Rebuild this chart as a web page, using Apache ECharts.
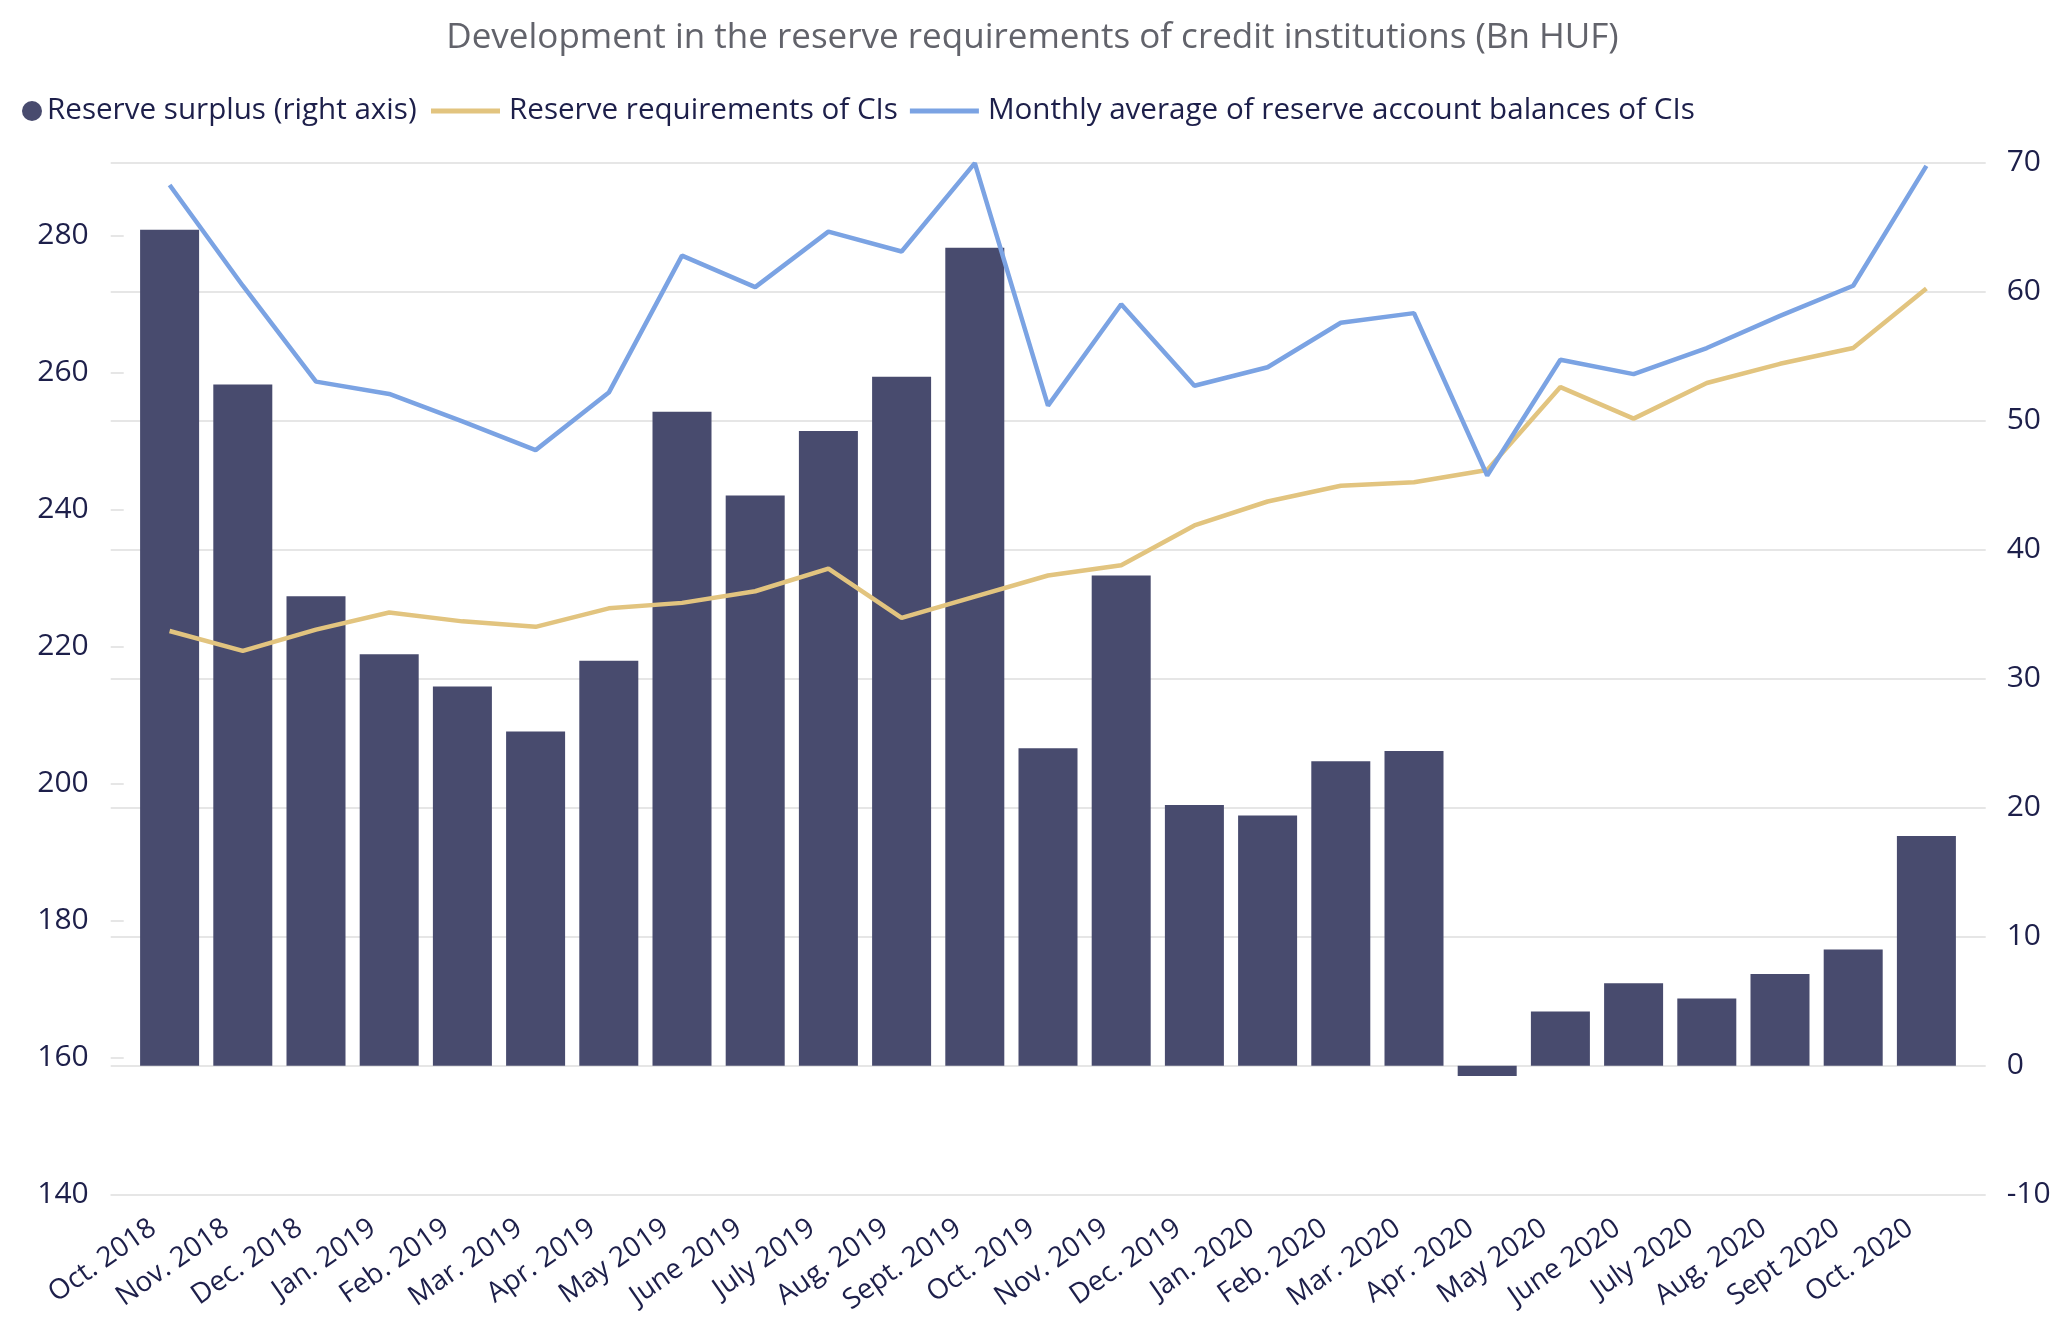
<!DOCTYPE html>
<html>
<head>
<meta charset="utf-8">
<script src="https://cdn.jsdelivr.net/npm/echarts@6/dist/echarts.min.js"></script>
<style>
html,body{margin:0;padding:0;background:#fff;}
#chart{width:2065px;height:1322px;}
</style>
</head>
<body>
<div id="chart"></div>
<script>
const categories = ["Oct. 2018","Nov. 2018","Dec. 2018","Jan. 2019","Feb. 2019","Mar. 2019","Apr. 2019","May 2019","June 2019","July 2019","Aug. 2019","Sept. 2019","Oct. 2019","Nov. 2019","Dec. 2019","Jan. 2020","Feb. 2020","Mar. 2020","Apr. 2020","May 2020","June 2020","July 2020","Aug. 2020","Sept 2020","Oct. 2020"];
const reserveSurplus = [64.8,52.8,36.4,31.9,29.4,25.9,31.4,50.7,44.2,49.2,53.4,63.4,24.6,38.0,20.2,19.4,23.6,24.4,-0.8,4.2,6.4,5.2,7.1,9.0,17.8];
const reserveRequirements = [222.3,219.4,222.5,225.0,223.7,222.9,225.6,226.4,228.1,231.4,224.2,227.3,230.4,231.9,237.7,241.2,243.5,244.0,245.8,257.9,253.3,258.5,261.3,263.6,272.3];
const reserveBalances = [287.4,272.7,258.7,256.9,252.9,248.7,257.1,277.1,272.5,280.6,277.7,290.6,255.2,270.0,258.1,260.8,267.3,268.7,245.0,261.9,259.8,263.6,268.3,272.7,290.2];
const leftTicks = [140,160,180,200,220,240,260,280];
const rightTicks = [-10,0,10,20,30,40,50,60,70];
const LEFT_MIN = 140, LEFT_MAX = 290.66, RIGHT_MIN = -10, RIGHT_MAX = 70;

const FONT = "Open Sans";
const TXT = "#1d1f4a";
const chart = echarts.init(document.getElementById('chart'));
chart.setOption({
  backgroundColor: '#ffffff',
  animation: false,
  title: {
    text: 'Development in the reserve requirements of credit institutions (Bn HUF)',
    left: 'center', top: 16,
    textStyle: {fontFamily: FONT, fontSize: 35, fontWeight: 'normal', color: '#62636b'}
  },
  legend: [
    {
      data: ['Reserve surplus (right axis)'],
      left: 17, top: 91, icon: 'circle', itemWidth: 20, itemHeight: 20,
      textStyle: {fontFamily: FONT, fontSize: 29.6, color: TXT}
    },
    {
      data: ['Reserve requirements of CIs','Monthly average of reserve account balances of CIs'],
      left: 426, top: 91, icon: 'rect', itemWidth: 69, itemHeight: 5, itemGap: 12,
      textStyle: {fontFamily: FONT, fontSize: 29.6, color: TXT, padding: [0,0,0,4]}
    }
  ],
  grid: [
    {left: 110.7, right: 79.3, top: 162.7, bottom: 127.3, outerBoundsMode: 'none'},
    {left: 133, right: 102, top: 162.7, bottom: 127.3, outerBoundsMode: 'none'}
  ],
  xAxis: [
    {gridIndex: 0, type: 'value', min: 0, max: 1, show: false},
    {gridIndex: 1, type: 'category', data: categories,
      axisLine: {show: false}, axisTick: {show: false},
      axisLabel: {rotate: 35, margin: 19, interval: 0, padding: [0, 20, 0, 0],
        fontFamily: FONT, fontSize: 28, color: TXT}}
  ],
  yAxis: [
    {gridIndex: 0, type: 'value', position: 'right', min: RIGHT_MIN, max: RIGHT_MAX, interval: 10,
      axisLine: {show: false}, axisTick: {show: false},
      axisLabel: {margin: 21, fontFamily: FONT, fontSize: 30, color: TXT},
      splitLine: {show: true, lineStyle: {color: '#e6e6e6', width: 2}}},
    {gridIndex: 0, type: 'value', position: 'left', min: LEFT_MIN, max: LEFT_MAX,
      axisLine: {show: false},
      axisTick: {show: true, inside: true, length: 13, customValues: leftTicks, lineStyle: {color: '#e6e6e6', width: 2}},
      axisLabel: {margin: 22, customValues: leftTicks, fontFamily: FONT, fontSize: 30, color: TXT},
      splitLine: {show: false}},
    {gridIndex: 1, type: 'value', position: 'left', min: LEFT_MIN, max: LEFT_MAX, show: false, splitLine: {show: false}},
    {gridIndex: 1, type: 'value', position: 'right', min: RIGHT_MIN, max: RIGHT_MAX, interval: 10, show: false, splitLine: {show: false}}
  ],
  series: [
    {name: 'Reserve surplus (right axis)', type: 'bar', xAxisIndex: 1, yAxisIndex: 3,
      data: reserveSurplus, barWidth: 59, itemStyle: {color: '#484b6e'}},
    {name: 'Reserve requirements of CIs', type: 'line', xAxisIndex: 1, yAxisIndex: 2,
      data: reserveRequirements, symbol: 'none', z: 3,
      lineStyle: {color: '#e2c47f', width: 4.5}, itemStyle: {color: '#e2c47f'}},
    {name: 'Monthly average of reserve account balances of CIs', type: 'line', xAxisIndex: 1, yAxisIndex: 2,
      data: reserveBalances, symbol: 'none', z: 4,
      lineStyle: {color: '#7ba3e3', width: 4.5}, itemStyle: {color: '#7ba3e3'}}
  ]
});
</script>
</body>
</html>
